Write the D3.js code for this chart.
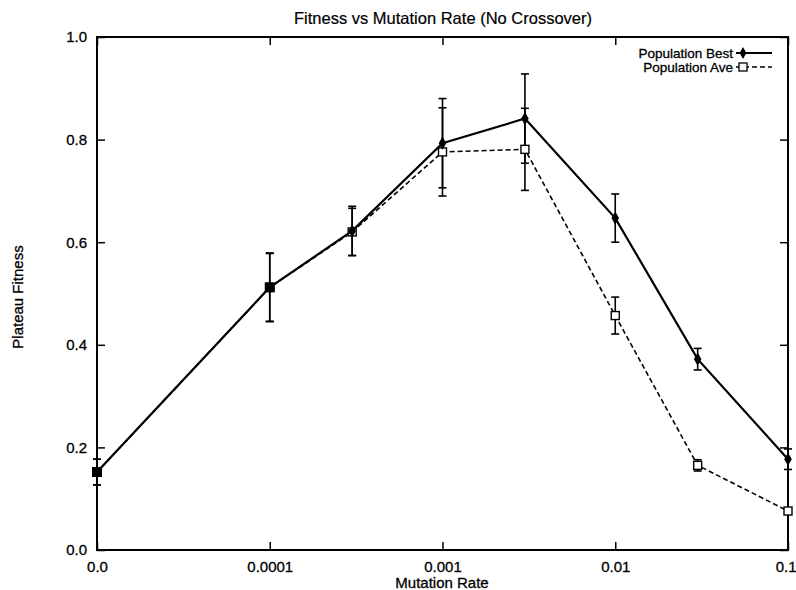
<!DOCTYPE html>
<html>
<head>
<meta charset="utf-8">
<script src="https://cdn.jsdelivr.net/npm/d3@7"></script>
<style>
  body { margin: 0; background: #fff; }
  text { font-family: "Liberation Sans", Arial, sans-serif; fill: #000; }
</style>
</head>
<body>
<svg id="chart" width="796" height="590"></svg>
<script>
// Mutation rates; 0.0 is placed one decade below 0.0001 on the log axis
const rates = [0.00001, 0.0001, 0.0003, 0.001, 0.003, 0.01, 0.03, 0.1];
const bestMean = [0.152, 0.512, 0.622, 0.793, 0.841, 0.647, 0.372, 0.177];
const bestErr  = [0.025, 0.067, 0.048, 0.087, 0.087, 0.047, 0.021, 0.020];
const aveMean  = [0.152, 0.512, 0.620, 0.776, 0.781, 0.457, 0.165, 0.076];
const aveErr   = [0.025, 0.066, 0.046, 0.086, 0.080, 0.036, 0.011, 0.005];
const xTickValues = [0.00001, 0.0001, 0.001, 0.01, 0.1];
const xTickLabels = ["0.0", "0.0001", "0.001", "0.01", "0.1"];
const yTickValues = [0, 0.2, 0.4, 0.6, 0.8, 1.0];

const svg = d3.select("#chart");
const L = 97, R = 788, T = 37, B = 550;

const x = d3.scaleLog().domain([0.00001, 0.1]).range([L, R]);
const y = d3.scaleLinear().domain([0, 1]).range([B, T]);

// Title and axis titles
svg.append("text").attr("x", 443).attr("y", 24)
  .attr("text-anchor", "middle").attr("font-size", 16.5)
  .style("stroke", "#000").style("stroke-width", 0.2)
  .text("Fitness vs Mutation Rate (No Crossover)");
svg.append("text").attr("x", 442).attr("y", 588)
  .attr("text-anchor", "middle").attr("font-size", 15)
  .style("stroke", "#000").style("stroke-width", 0.3)
  .text("Mutation Rate");
svg.append("text").attr("transform", `translate(23,297) rotate(-90)`)
  .attr("text-anchor", "middle").attr("font-size", 15)
  .style("stroke", "#000").style("stroke-width", 0.3)
  .text("Plateau Fitness");

// Axes with inward ticks on all four sides
const fmtX = (d) => xTickLabels[xTickValues.indexOf(d)];
const axisStyle = (g) => {
  g.select(".domain").remove();
  g.selectAll("line").attr("stroke", "#000").attr("stroke-width", 1.5);
  g.selectAll("text").attr("font-size", 15).style("stroke", "#000").style("stroke-width", 0.3);
};
svg.append("g").attr("transform", `translate(0,${B})`)
  .call(d3.axisBottom(x).tickValues(xTickValues).tickFormat(fmtX).tickSizeInner(-8).tickSizeOuter(0).tickPadding(11))
  .call(axisStyle)
  .call(g => g.selectAll(".tick").filter(d => d === 0.1).select("text")
    .attr("text-anchor", "end").attr("x", 8));
svg.append("g").attr("transform", `translate(0,${T})`)
  .call(d3.axisTop(x).tickValues(xTickValues).tickFormat("").tickSizeInner(-8).tickSizeOuter(0))
  .call(axisStyle);
svg.append("g").attr("transform", `translate(${L},0)`)
  .call(d3.axisLeft(y).tickValues(yTickValues).tickFormat(d3.format(".1f")).tickSizeInner(-8).tickSizeOuter(0).tickPadding(10))
  .call(axisStyle);
svg.append("g").attr("transform", `translate(${R},0)`)
  .call(d3.axisRight(y).tickValues(yTickValues).tickFormat("").tickSizeInner(-8).tickSizeOuter(0))
  .call(axisStyle);

// Plot frame
svg.append("rect").attr("x", L).attr("y", T).attr("width", R - L).attr("height", B - T)
  .attr("fill", "none").attr("stroke", "#000").attr("stroke-width", 2);

const line = d3.line().x(d => x(d.r)).y(d => y(d.v));
const pts = (means, errs) => rates.map((r, i) => ({ r, v: means[i], e: errs[i] }));
const bestPts = pts(bestMean, bestErr);
const avePts = pts(aveMean, aveErr);

// Error bars
function errorBars(data) {
  const g = svg.append("g").attr("stroke", "#000").attr("stroke-width", 1.6);
  data.forEach(d => {
    const cx = x(d.r), y1 = y(d.v + d.e), y0 = y(d.v - d.e);
    g.append("line").attr("x1", cx).attr("x2", cx).attr("y1", y1).attr("y2", y0);
    g.append("line").attr("x1", cx - 4).attr("x2", cx + 4).attr("y1", y1).attr("y2", y1);
    g.append("line").attr("x1", cx - 4).attr("x2", cx + 4).attr("y1", y0).attr("y2", y0);
  });
}
errorBars(avePts);
errorBars(bestPts);

// Population average: dashed line, open squares
svg.append("path").datum(avePts).attr("d", line)
  .attr("fill", "none").attr("stroke", "#000").attr("stroke-width", 1.6)
  .attr("stroke-dasharray", "5,3");
svg.append("g").selectAll("rect").data(avePts).join("rect")
  .attr("x", d => x(d.r) - 4).attr("y", d => y(d.v) - 4)
  .attr("width", 8).attr("height", 8)
  .attr("fill", "#fff").attr("stroke", "#000").attr("stroke-width", 1.4);

// Population best: solid line, filled diamonds
svg.append("path").datum(bestPts).attr("d", line)
  .attr("fill", "none").attr("stroke", "#000").attr("stroke-width", 2.2);
const diamond = d3.symbol().type(d3.symbolDiamond).size(50);
svg.append("g").selectAll("path").data(bestPts).join("path")
  .attr("transform", d => `translate(${x(d.r)},${y(d.v)})`)
  .attr("d", diamond).attr("fill", "#000");

// Points where both series coincide are drawn as filled squares
svg.append("g").selectAll("rect").data(avePts.filter((d, i) => Math.abs(d.v - bestMean[i]) < 0.001)).join("rect")
  .attr("x", d => x(d.r) - 5).attr("y", d => y(d.v) - 5)
  .attr("width", 10).attr("height", 10).attr("fill", "#000");

// Legend
const legend = [
  { label: "Population Best", dash: null, marker: "diamond", y: 53 },
  { label: "Population Ave", dash: "5,3", marker: "square", y: 67 }
];
legend.forEach(l => {
  svg.append("text").attr("x", 733).attr("y", l.y + 5)
    .attr("text-anchor", "end").attr("font-size", 13.5)
    .style("stroke", "#000").style("stroke-width", 0.3).text(l.label);
  svg.append("line").attr("x1", 736).attr("x2", 772).attr("y1", l.y).attr("y2", l.y)
    .attr("stroke", "#000").attr("stroke-width", l.dash ? 1.4 : 1.8)
    .attr("stroke-dasharray", l.dash);
  if (l.marker === "diamond") {
    svg.append("path").attr("transform", `translate(743,${l.y})`)
      .attr("d", d3.symbol().type(d3.symbolDiamond).size(40)).attr("fill", "#000");
  } else {
    svg.append("rect").attr("x", 739).attr("y", l.y - 4).attr("width", 8).attr("height", 8)
      .attr("fill", "#fff").attr("stroke", "#000").attr("stroke-width", 1.3);
  }
});
</script>
</body>
</html>
